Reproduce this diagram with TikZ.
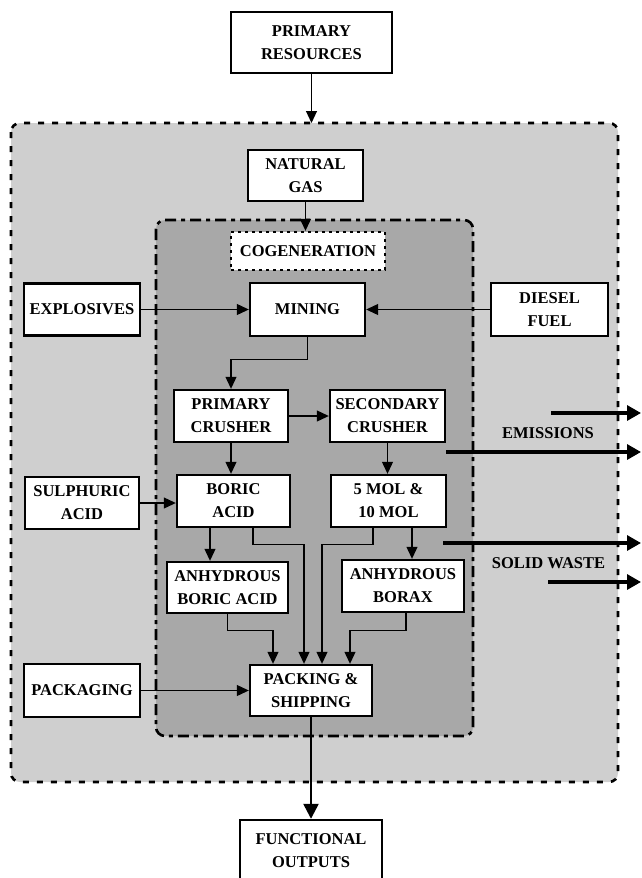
\documentclass[tikz,border=0pt]{standalone}
\usepackage{fontspec}
\setmainfont{Liberation Serif}
\usetikzlibrary{arrows.meta,positioning,calc}
\definecolor{zoneOuter}{gray}{0.81}
\definecolor{zoneInner}{gray}{0.66}
\tikzset{bxpanel/.style={
  font=\bfseries\fontsize{16.5}{23}\selectfont,
  proc/.style={draw, line width=2.4pt, fill=white, align=center, inner sep=2pt},
  flow/.style={-{Triangle[length=12pt, width=11pt]}, line width=1.1pt},
  outflow/.style={-{Triangle[length=14pt, width=15pt]}, line width=3.2pt},
  zone/.style={rounded corners=9pt, line width=2.6pt},
}}

\begin{document}
\begin{tikzpicture}[bxpanel, x=1pt, y=-1pt,
  cogen/.style={proc, dash pattern=on 3pt off 4pt},
  ship/.style={-{Triangle[length=15pt, width=15pt]}, line width=2.4pt},
  lbl/.style={inner sep=0pt},
]
\useasboundingbox (0,0) rectangle (642,878);

% =====================================================================
% system boundaries
% =====================================================================
\draw[zone, fill=zoneOuter, dash pattern=on 6pt off 8pt] (11,123) rectangle (618,782);
\draw[zone, fill=zoneInner, dash pattern=on 11pt off 5pt on 4pt off 5pt] (156,220) rectangle (473,736);

% =====================================================================
% inputs
% =====================================================================
\node[proc, minimum width=161pt, minimum height=61pt] (pres) at (311.5,42.5) {PRIMARY\\RESOURCES};
\node[proc, minimum width=115pt, minimum height=51pt] (gas) at (305.5,175.5) {NATURAL\\GAS};
\node[proc, minimum width=116pt, minimum height=52pt] (expl) at (82,309.5) {EXPLOSIVES};
\node[proc, minimum width=117pt, minimum height=53pt] (diesel) at (549.5,309.5) {DIESEL\\FUEL};
\node[proc, minimum width=114pt, minimum height=52pt] (sulph) at (82,503) {SULPHURIC\\ACID};
\node[proc, minimum width=116pt, minimum height=53pt] (pkg) at (82,690.5) {PACKAGING};

% =====================================================================
% process chain
% =====================================================================
\node[cogen, minimum width=154pt, minimum height=38pt] (cogen) at (308,251) {COGENERATION};
\node[proc, minimum width=115pt, minimum height=53pt] (mining) at (307.5,309.5) {MINING};
\node[proc, minimum width=114pt, minimum height=52pt] (pcr) at (231,416) {PRIMARY\\CRUSHER};
\node[proc, minimum width=115pt, minimum height=52pt] (scr) at (387.5,416) {SECONDARY\\CRUSHER};
\node[proc, minimum width=113pt, minimum height=52pt] (boric) at (233.5,501) {BORIC\\ACID};
\node[proc, minimum width=115pt, minimum height=52pt] (mol) at (388.5,501) {5 MOL \&\\10 MOL};
\node[proc, minimum width=121pt, minimum height=51pt] (aba) at (227.5,587.5) {ANHYDROUS\\BORIC ACID};
\node[proc, minimum width=122pt, minimum height=52pt] (abx) at (403,586) {ANHYDROUS\\BORAX};
\node[proc, minimum width=122pt, minimum height=51pt] (pack) at (311,690.5) {PACKING \&\\SHIPPING};
\node[proc, minimum width=142pt, minimum height=62pt] (fo) at (311,851) {FUNCTIONAL\\OUTPUTS};

% =====================================================================
% outputs to the environment
% =====================================================================
\node[lbl] (emis) at (548,433) {EMISSIONS};
\node[lbl] (swaste) at (548.5,563) {SOLID WASTE};
\coordinate (emA) at (551,413);  \coordinate (emAend) at (641,413);
\coordinate (emB) at (446,452);  \coordinate (emBend) at (641,452);
\coordinate (swA) at (443,543);  \coordinate (swAend) at (641,543);
\coordinate (swB) at (548,582);  \coordinate (swBend) at (641,582);
\coordinate (outerTop) at (311.5,123);

% =====================================================================
% connectors
% =====================================================================
\draw[flow] (pres.south) -- (outerTop);
\draw[flow] (gas.south) -- (gas.south |- cogen.north);
\draw[flow] (expl.east) -- (mining.west);
\draw[flow] (diesel.west) -- (mining.east);
\draw[flow] (mining.south) -- ++(0,22) -| (pcr.north);
\draw[flow] (pcr.east) -- (scr.west);
\draw[flow] (pcr.south) -- (pcr.south |- boric.north);
\draw[flow] (scr.south) -- (scr.south |- mol.north);
\draw[flow] (sulph.east) -- (sulph.east -| boric.west);
\draw[flow] ([xshift=-23.5pt]boric.south) -- ([xshift=-23.5pt]boric.south |- aba.north);
\draw[flow] ([xshift=19.5pt]boric.south) -- ++(0,16) -| ([xshift=-7pt]pack.north);
\draw[flow] ([xshift=-15.5pt]mol.south) -- ++(0,16) -| ([xshift=11pt]pack.north);
\draw[flow] ([xshift=23.5pt]mol.south) -- ([xshift=23.5pt]mol.south |- abx.north);
\draw[flow] (aba.south) -- ++(0,16) -| ([xshift=-38pt]pack.north);
\draw[flow] ([xshift=3pt]abx.south) -- ++(0,17) -| ([xshift=39pt]pack.north);
\draw[flow] (pkg.east) -- (pack.west);
\draw[ship] (pack.south) -- (fo.north);
\draw[outflow] (emA) -- (emAend);
\draw[outflow] (emB) -- (emBend);
\draw[outflow] (swA) -- (swAend);
\draw[outflow] (swB) -- (swBend);

\end{tikzpicture}
\end{document}
